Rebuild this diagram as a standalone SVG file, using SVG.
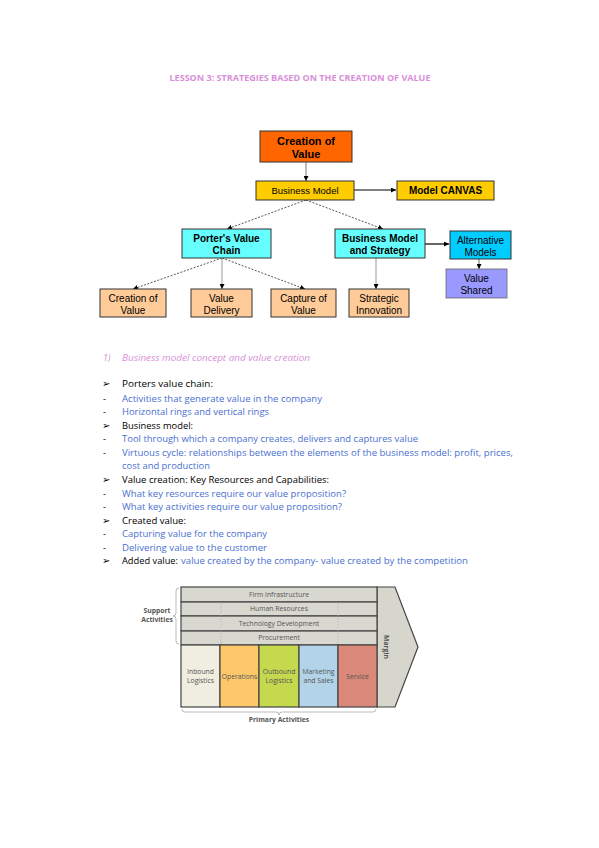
<svg xmlns="http://www.w3.org/2000/svg" width="599" height="848" viewBox="0 0 599 848">
<defs>
<marker id="ah" viewBox="0 0 6 6" refX="6" refY="3" markerWidth="5" markerHeight="5" orient="auto" markerUnits="userSpaceOnUse">
<path d="M0,0 L6,3 L0,6 z" fill="#000"/>
</marker>
<style>
.bx{stroke:#333;stroke-width:1}
.t{font-family:"Liberation Sans",Arial,sans-serif;fill:#000;text-anchor:middle}
.b{font-weight:bold}
.body{font-family:"Open Sans","Liberation Sans",sans-serif;font-size:9px}
.blk{fill:#000}
.blu{fill:#4a6fd1}
.pnk{fill:#d98fd9}
.bul{font-family:"DejaVu Sans",sans-serif;font-size:10px;fill:#000;font-weight:bold}
.vc{font-family:"Open Sans","Liberation Sans",sans-serif;font-size:6.8px;fill:#555;text-anchor:middle}
.row{fill:#d9d8d0;stroke:#444;stroke-width:1.2}
.col{stroke:#444;stroke-width:1.2}
.dot{stroke:#aaa;stroke-width:0.6;stroke-dasharray:1.5,1.5}
</style>
</defs>
<rect width="599" height="848" fill="#fff"/>

<text x="300" y="81" font-family="'Open Sans','Liberation Sans',sans-serif" font-size="8.8" font-weight="bold" fill="#d98fd9" text-anchor="middle" textLength="261" lengthAdjust="spacingAndGlyphs">LESSON 3: STRATEGIES BASED ON THE CREATION OF VALUE</text>

<g id="connectors" fill="none">
<line x1="306" y1="162" x2="306" y2="181" stroke="#555" stroke-width="0.8" marker-end="url(#ah)"/>
<line x1="354" y1="190" x2="396" y2="190" stroke="#000" stroke-width="1.2" marker-end="url(#ah)"/>
<line x1="306" y1="200" x2="227" y2="229" stroke="#444" stroke-width="0.9" stroke-dasharray="2,1.5" marker-end="url(#ah)"/>
<line x1="306" y1="200" x2="383" y2="229" stroke="#444" stroke-width="0.9" stroke-dasharray="2,1.5" marker-end="url(#ah)"/>
<line x1="425" y1="244" x2="449" y2="244" stroke="#000" stroke-width="1.2" marker-end="url(#ah)"/>
<line x1="479" y1="259" x2="479" y2="269" stroke="#444" stroke-width="0.8" marker-end="url(#ah)"/>
<line x1="222" y1="258" x2="133" y2="289" stroke="#444" stroke-width="0.9" stroke-dasharray="2,1.5" marker-end="url(#ah)"/>
<line x1="222" y1="258" x2="222" y2="289" stroke="#bbb" stroke-width="1.5" marker-end="url(#ah)"/>
<line x1="222" y1="258" x2="305" y2="289" stroke="#444" stroke-width="0.9" stroke-dasharray="2,1.5" marker-end="url(#ah)"/>
<line x1="376" y1="258" x2="376" y2="289" stroke="#bbb" stroke-width="1.5" marker-end="url(#ah)"/>
</g>

<g id="creation">
<rect class="bx" x="260" y="131" width="92" height="31" fill="#ff6600"/>
<text class="t b" x="306" y="145" font-size="11">Creation of</text>
<text class="t b" x="306" y="158" font-size="11">Value</text>
</g>
<g id="business-model">
<rect class="bx" x="256" y="181" width="98" height="19" fill="#ffcc00"/>
<text class="t" x="305" y="194" font-size="9.5">Business Model</text>
</g>
<g id="model-canvas">
<rect class="bx" x="397" y="181" width="97" height="19" fill="#ffcc00"/>
<text class="t b" x="445.5" y="194" font-size="10">Model CANVAS</text>
</g>
<g id="porter">
<rect class="bx" x="182" y="229" width="89" height="29" fill="#66ffff"/>
<text class="t b" x="226.5" y="241.5" font-size="10">Porter's Value</text>
<text class="t b" x="226.5" y="253.5" font-size="10">Chain</text>
</g>
<g id="bms">
<rect class="bx" x="335" y="229" width="90" height="29" fill="#66ffff"/>
<text class="t b" x="380" y="241.5" font-size="10">Business Model</text>
<text class="t b" x="380" y="253.5" font-size="10">and Strategy</text>
</g>
<g id="alt-models">
<rect class="bx" x="450" y="231" width="61" height="28" fill="#00ccff"/>
<text class="t" x="480.5" y="243.5" font-size="10">Alternative</text>
<text class="t" x="480.5" y="255.5" font-size="10">Models</text>
</g>
<g id="value-shared">
<rect x="446" y="269" width="61" height="29" fill="#9999ff" stroke="#666" stroke-width="0.8"/>
<text class="t" x="476.5" y="281.5" font-size="10">Value</text>
<text class="t" x="476.5" y="293.5" font-size="10">Shared</text>
</g>
<g id="creation-of-value">
<rect class="bx" x="100" y="289" width="66" height="28" fill="#ffcc99"/>
<text class="t" x="133" y="301.5" font-size="10">Creation of</text>
<text class="t" x="133" y="313.5" font-size="10">Value</text>
</g>
<g id="value-delivery">
<rect class="bx" x="191" y="289" width="61" height="28" fill="#ffcc99"/>
<text class="t" x="221.5" y="301.5" font-size="10">Value</text>
<text class="t" x="221.5" y="313.5" font-size="10">Delivery</text>
</g>
<g id="capture-of-value">
<rect class="bx" x="271" y="289" width="65" height="28" fill="#ffcc99"/>
<text class="t" x="303.5" y="301.5" font-size="10">Capture of</text>
<text class="t" x="303.5" y="313.5" font-size="10">Value</text>
</g>
<g id="strategic-innovation">
<rect class="bx" x="349" y="289" width="60" height="28" fill="#ffcc99"/>
<text class="t" x="379" y="301.5" font-size="10">Strategic</text>
<text class="t" x="379" y="313.5" font-size="10">Innovation</text>
</g>

<g id="text-section" class="body">
<text class="pnk" x="103" y="361" font-style="italic">1)</text>
<text class="pnk" x="122" y="361" font-style="italic" textLength="188" lengthAdjust="spacingAndGlyphs">Business model concept and value creation</text>

<text class="bul" x="102" y="387">➢</text>
<text class="blk" x="122" y="387" textLength="91" lengthAdjust="spacingAndGlyphs">Porters value chain:</text>
<text class="blk" x="103" y="402">-</text>
<text class="blu" x="122" y="402" textLength="200" lengthAdjust="spacingAndGlyphs">Activities that generate value in the company</text>
<text class="blk" x="103" y="415">-</text>
<text class="blu" x="122" y="415" textLength="147" lengthAdjust="spacingAndGlyphs">Horizontal rings and vertical rings</text>

<text class="bul" x="102" y="429">➢</text>
<text class="blk" x="122" y="429" textLength="71" lengthAdjust="spacingAndGlyphs">Business model:</text>
<text class="blk" x="103" y="442">-</text>
<text class="blu" x="122" y="442" textLength="296" lengthAdjust="spacingAndGlyphs">Tool through which a company creates, delivers and captures value</text>
<text class="blk" x="103" y="456">-</text>
<text class="blu" x="122" y="456" textLength="391" lengthAdjust="spacingAndGlyphs">Virtuous cycle: relationships between the elements of the business model: profit, prices,</text>
<text class="blu" x="122" y="469" textLength="88" lengthAdjust="spacingAndGlyphs">cost and production</text>

<text class="bul" x="102" y="483">➢</text>
<text class="blk" x="122" y="483" textLength="207" lengthAdjust="spacingAndGlyphs">Value creation: Key Resources and Capabilities:</text>
<text class="blk" x="103" y="497">-</text>
<text class="blu" x="122" y="497" textLength="224" lengthAdjust="spacingAndGlyphs">What key resources require our value proposition?</text>
<text class="blk" x="103" y="510">-</text>
<text class="blu" x="122" y="510" textLength="220" lengthAdjust="spacingAndGlyphs">What key activities require our value proposition?</text>

<text class="bul" x="102" y="524">➢</text>
<text class="blk" x="122" y="524" textLength="64" lengthAdjust="spacingAndGlyphs">Created value:</text>
<text class="blk" x="103" y="537">-</text>
<text class="blu" x="122" y="537" textLength="145" lengthAdjust="spacingAndGlyphs">Capturing value for the company</text>
<text class="blk" x="103" y="551">-</text>
<text class="blu" x="122" y="551" textLength="145" lengthAdjust="spacingAndGlyphs">Delivering value to the customer</text>

<text class="bul" x="102" y="564">➢</text>
<text class="blk" x="122" y="564" textLength="56" lengthAdjust="spacingAndGlyphs">Added value:</text>
<text class="blu" x="181" y="564" textLength="287" lengthAdjust="spacingAndGlyphs">value created by the company- value created by the competition</text>
</g>

<g id="value-chain">
<path d="M377,587 L395,587 L418,647 L395,707 L377,707 Z" fill="#d6d6cc" stroke="#444" stroke-width="1.2"/>
<rect class="row" x="181" y="587" width="196" height="15"/>
<rect class="row" x="181" y="602" width="196" height="14"/>
<rect class="row" x="181" y="616" width="196" height="15"/>
<rect class="row" x="181" y="631" width="196" height="14"/>
<line class="dot" x1="221" y1="603" x2="221" y2="644"/>
<line class="dot" x1="338" y1="603" x2="338" y2="644"/>
<rect class="col" x="181" y="645" width="39" height="62" fill="#efeee0"/>
<rect class="col" x="220" y="645" width="39" height="62" fill="#fcc86a"/>
<rect class="col" x="259" y="645" width="40" height="62" fill="#c5d94f"/>
<rect class="col" x="299" y="645" width="39" height="62" fill="#b3d4e8"/>
<rect class="col" x="338" y="645" width="39" height="62" fill="#d9887a"/>
<text class="vc" x="279" y="597">Firm Infrastructure</text>
<text class="vc" x="279" y="611">Human Resources</text>
<text class="vc" x="279" y="625.5">Technology Development</text>
<text class="vc" x="279" y="640">Procurement</text>
<text class="vc" x="200.5" y="674">Inbound</text>
<text class="vc" x="200.5" y="683">Logistics</text>
<text class="vc" x="239.5" y="678.5">Operations</text>
<text class="vc" x="279" y="674">Outbound</text>
<text class="vc" x="279" y="683">Logistics</text>
<text class="vc" x="318.5" y="674">Marketing</text>
<text class="vc" x="318.5" y="683">and Sales</text>
<text class="vc" x="357.5" y="678.5">Service</text>
<text class="vc" x="0" y="0" font-weight="bold" font-size="6" fill="#444" transform="translate(384,647) rotate(90)">Margin</text>
<path d="M179,588 Q176,588 176,591 L176,613 Q176,616 173,616 Q176,616 176,619 L176,641 Q176,644 179,644" fill="none" stroke="#aaa" stroke-width="0.8"/>
<text class="vc" x="157" y="613" font-weight="bold" fill="#444">Support</text>
<text class="vc" x="157" y="622" font-weight="bold" fill="#444">Activities</text>
<path d="M182,709 Q182,712 185,712 L276,712 Q279,712 279,715 Q279,712 282,712 L373,712 Q376,712 376,709" fill="none" stroke="#aaa" stroke-width="0.8"/>
<text class="vc" x="279" y="722" font-weight="bold" fill="#444" font-size="6.8">Primary Activities</text>
</g>
</svg>
